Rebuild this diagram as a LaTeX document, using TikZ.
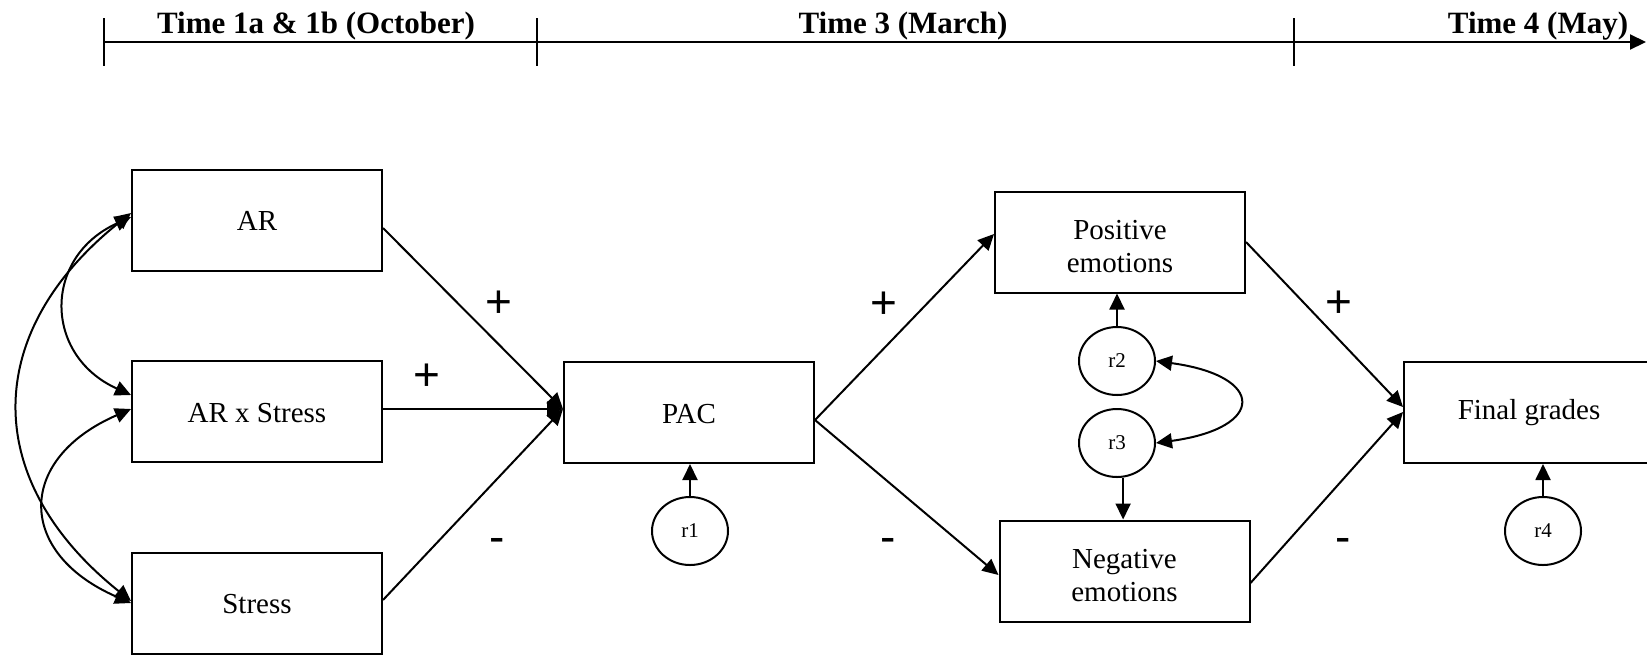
\documentclass[tikz,border=0pt]{standalone}
\usepackage{fontspec}
\setmainfont{Liberation Serif}
\newfontfamily\signfont{Liberation Sans}
\usetikzlibrary{arrows.meta,shapes.geometric}
\tikzset{
	varnode/.style={rectangle, draw=black, line width=1pt, minimum width=125pt, minimum height=50.5pt, inner sep=0pt, align=center, text height=11.6pt, text depth=1pt, font=\fontsize{14.5}{16.8}\selectfont},
	twoline/.style={text height=31pt, text depth=0.3pt},
	resnode/.style={ellipse, draw=black, line width=1pt, minimum width=38pt, minimum height=34pt, inner sep=0pt, font=\fontsize{10.5}{12}\selectfont},
	signnode/.style={inner sep=0pt, font=\signfont\fontsize{23}{26}\selectfont},
	timenode/.style={anchor=base, inner sep=0pt, font=\bfseries\fontsize{15.5}{18}\selectfont},
	pathline/.style={line width=1pt, -{Triangle[length=8pt,width=7.5pt]}},
	covline/.style={line width=1pt, {Triangle[length=8pt,width=7.5pt]}-{Triangle[length=8pt,width=7.5pt]}}
}
\begin{document}
\begin{tikzpicture}[x=0.5pt,y=-0.5pt]
			\useasboundingbox (0,0) rectangle (1647,654);
			
			\coordinate (t1) at (104,42);
			\coordinate (t3) at (537,42);
			\coordinate (t4) at (1294,42);
			\coordinate (tend) at (1646,42);
			\draw[pathline] (t1) -- (tend);
			\foreach \t in {t1,t3,t4}
				\draw[line width=1pt] ([yshift=12pt]\t) -- ([yshift=-12pt]\t);
			\node[timenode] (time1) at (316,33) {Time 1a \& 1b (October)};
			\node[timenode] (time3) at (903,33) {Time 3 (March)};
			\node[timenode] (time4) at (1538,33) {Time 4 (May)};
			
			\node[varnode] (AR) at (257,220) {AR};
			\node[varnode] (ARxS) at (257,411.5) {AR x Stress};
			\node[varnode] (Stress) at (257,603) {Stress};
			\node[varnode] (PAC) at (689,412.5) {PAC};
			\node[varnode,twoline] (PosEmo) at (1120,242) {Positive\\emotions};
			\node[varnode,twoline] (NegEmo) at (1124.5,571) {Negative\\emotions};
			\node[varnode,text height=10pt,text depth=3.2pt] (Final) at (1529,412.5) {Final grades};
			
			\node[resnode] (r1) at (690,531) {r1};
			\node[resnode] (r2) at (1117,361) {r2};
			\node[resnode] (r3) at (1117,443) {r3};
			\node[resnode] (r4) at (1543,531) {r4};
			
			\coordinate (pacin) at ([yshift=1.75pt]PAC.west);
			\draw[pathline] ([yshift=-4pt]AR.east) -- (pacin);
			\draw[pathline] (ARxS.east |- pacin) -- (pacin);
			\draw[pathline] ([yshift=1.5pt]Stress.east) -- (pacin);
			\draw[pathline] ([yshift=-3.75pt]PAC.east) -- ([yshift=4pt]PosEmo.west);
			\draw[pathline] ([yshift=-3.75pt]PAC.east) -- ([yshift=-2pt]NegEmo.west);
			\draw[pathline] (PosEmo.east) -- ([yshift=2.75pt]Final.west);
			\draw[pathline] ([yshift=-6pt]NegEmo.east) -- ([yshift=0.25pt]Final.west);
			
			\draw[pathline] (r1.north) -- (r1.north |- PAC.south);
			\draw[pathline] (r2.north) -- (r2.north |- PosEmo.south);
			\draw[pathline] (r3.-80) -- (r3.-80 |- NegEmo.north);
			\draw[pathline] (r4.north) -- (r4.north |- Final.south);
			
			\draw[covline] ([yshift=3.5pt]AR.west) .. controls +(-150,120) and +(-150,-120) .. ([yshift=1pt]Stress.west);
			\draw[covline] ([yshift=1.5pt]AR.west) .. controls +(-88,40) and +(-88,-40) .. ([yshift=8.25pt]ARxS.west);
			\draw[covline] ([yshift=1.25pt]ARxS.west) .. controls +(-115,50) and +(-115,-50) .. (Stress.west);
			\draw[covline] (r2.east) .. controls +(110,15) and +(110,-15) .. (r3.east);
			
			\node[signnode] (sgn1) at (499,304) {+};
			\node[signnode] (sgn2) at (427,377) {+};
			\node[signnode] (sgn3) at (497,545) {-};
			\node[signnode] (sgn4) at (884,305) {+};
			\node[signnode] (sgn5) at (888,545) {-};
			\node[signnode] (sgn6) at (1339,304) {+};
			\node[signnode] (sgn7) at (1343,545) {-};
		\end{tikzpicture}
\end{document}
